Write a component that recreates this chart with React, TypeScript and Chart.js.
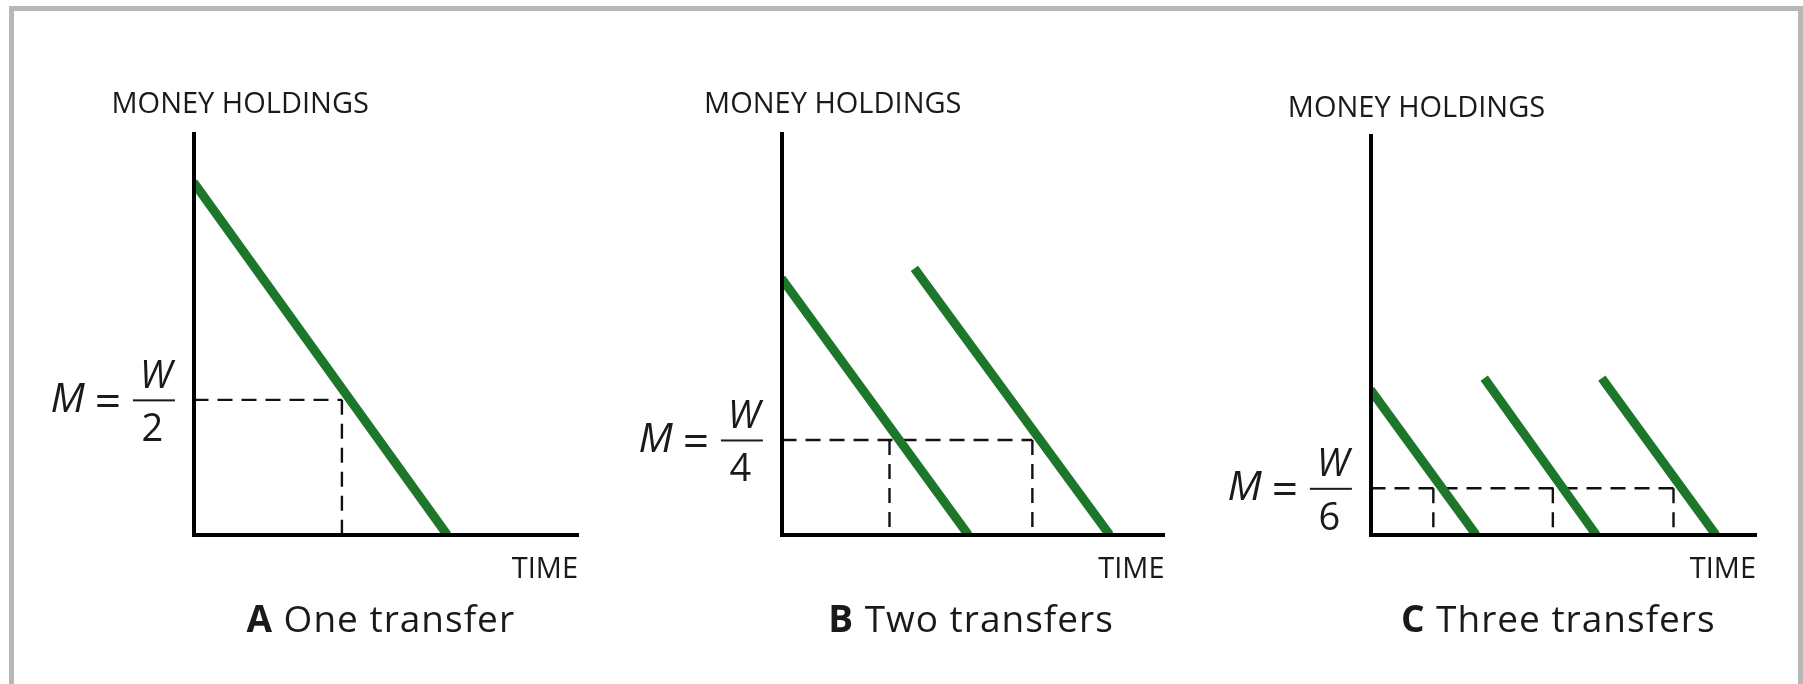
import React, { useEffect, useRef } from "react";
import { Chart, registerables } from "chart.js";

Chart.register(...registerables);

// ---------- text ----------
const Y_AXIS_LABEL = "MONEY HOLDINGS";
const X_AXIS_LABEL = "TIME";
const TITLE_LETTERS = ["A", "B", "C"];
const TITLE_TEXTS = ["One transfer", "Two transfers", "Three transfers"];
const FRACTION_DENOMINATORS = ["2", "4", "6"];

// ---------- axis ranges (abstract units) ----------
const X_RANGE = [0, 10];
const Y_RANGE = [0, 10];

// ---------- Panel A: one transfer ----------
const aSegment1 = [{ x: 0, y: 8.8 }, { x: 6.6, y: 0 }];
const aAverageLevel = 3.37;
const aAverageTimes = [3.86];

// ---------- Panel B: two transfers ----------
const bSegment1 = [{ x: 0, y: 6.4 }, { x: 4.88, y: 0 }];
const bSegment2 = [{ x: 3.47, y: 6.65 }, { x: 8.57, y: 0 }];
const bAverageLevel = 2.37;
const bAverageTimes = [2.82, 6.55];

// ---------- Panel C: three transfers ----------
const cSegment1 = [{ x: 0, y: 3.64 }, { x: 2.74, y: 0 }];
const cSegment2 = [{ x: 2.95, y: 3.93 }, { x: 5.86, y: 0 }];
const cSegment3 = [{ x: 6.0, y: 3.93 }, { x: 8.96, y: 0 }];
const cAverageLevel = 1.17;
const cAverageTimes = [1.63, 4.73, 7.86];

// ---------- styles ----------
const GREEN = "#1c772b";
const INK = "#1a1a1a";
const FONT = '"Open Sans", "Noto Sans", sans-serif';

type Pt = { x: number; y: number };

type PanelSpec = {
  index: number;
  segments: Pt[][];
  level: number;
  times: number[];
  box: { left: number; top: number; width: number; height: number };
  pad: { left: number; right: number; top: number; bottom: number };
  yLabelShift: number;
  yLabelRise: number;
  titleShift: number;
};

const PANELS: PanelSpec[] = [
  {
    index: 0,
    segments: [aSegment1],
    level: aAverageLevel,
    times: aAverageTimes,
    box: { left: 20, top: 60, width: 580, height: 620 },
    pad: { left: 173.5, right: 22, top: 74, bottom: 145 },
    yLabelShift: -82,
    yLabelRise: 20.7,
    titleShift: -5,
  },
  {
    index: 1,
    segments: [bSegment1, bSegment2],
    level: bAverageLevel,
    times: bAverageTimes,
    box: { left: 600, top: 60, width: 590, height: 620 },
    pad: { left: 181.5, right: 25.5, top: 74, bottom: 145 },
    yLabelShift: -77.4,
    yLabelRise: 20.7,
    titleShift: -2,
  },
  {
    index: 2,
    segments: [cSegment1, cSegment2, cSegment3],
    level: cAverageLevel,
    times: cAverageTimes,
    box: { left: 1190, top: 60, width: 600, height: 620 },
    pad: { left: 180.5, right: 34, top: 76, bottom: 145 },
    yLabelShift: -82.7,
    yLabelRise: 19,
    titleShift: -5,
  },
];

function makeTextPlugin(spec: PanelSpec) {
  return {
    id: "panelText" + spec.index,
    afterDraw(chart: any) {
      const { ctx, chartArea, scales } = chart;
      const left = chartArea.left;
      const right = chartArea.right;
      const top = chartArea.top;
      const bottom = chartArea.bottom;
      const my = scales.y.getPixelForValue(spec.level);
      ctx.save();
      ctx.fillStyle = INK;
      ctx.textBaseline = "alphabetic";

      // y-axis label above the axis
      ctx.font = `29px ${FONT}`;
      ctx.textAlign = "left";
      ctx.fillText(Y_AXIS_LABEL, left + spec.yLabelShift, top - spec.yLabelRise);

      // x-axis label under right end
      ctx.textAlign = "right";
      ctx.fillText(X_AXIS_LABEL, right, bottom + 43);

      // panel title: bold letter + regular text
      const letter = TITLE_LETTERS[spec.index];
      const rest = " " + TITLE_TEXTS[spec.index];
      (ctx as any).letterSpacing = "1px";
      ctx.font = `bold 37px ${FONT}`;
      const wL = ctx.measureText(letter).width;
      ctx.font = `37px ${FONT}`;
      const wR = ctx.measureText(rest).width;
      const cx = (left + right) / 2 + spec.titleShift;
      const tx = cx - (wL + wR) / 2;
      ctx.textAlign = "left";
      ctx.font = `bold 37px ${FONT}`;
      ctx.fillText(letter, tx, bottom + 96.7);
      ctx.font = `37px ${FONT}`;
      ctx.fillText(rest, tx + wL, bottom + 96.7);
      (ctx as any).letterSpacing = "0px";

      // M = W / n label
      ctx.font = `italic 41px ${FONT}`;
      ctx.textAlign = "left";
      ctx.fillText("M", left - 143, my + 12);
      ctx.font = `46px ${FONT}`;
      ctx.textAlign = "center";
      ctx.fillText("=", left - 85.6, my + 17);
      const barL = left - 60.6;
      const barR = left - 18.6;
      ctx.fillRect(barL, my - 0.5, barR - barL, 2);
      const bc = (barL + barR) / 2;
      ctx.font = `italic 38px ${FONT}`;
      ctx.fillText("W", bc + 2, my - 12);
      ctx.font = `38px ${FONT}`;
      ctx.fillText(FRACTION_DENOMINATORS[spec.index], bc - 1.5, my + 41.5);
      ctx.restore();
    },
  };
}

function buildDatasets(spec: PanelSpec) {
  const ds: any[] = [];
  spec.segments.forEach((seg) => {
    ds.push({
      data: seg,
      borderColor: GREEN,
      borderWidth: 9,
      borderCapStyle: "butt",
      pointRadius: 0,
      fill: false,
      clip: 0,
      order: 0,
    });
  });
  const lastTime = spec.times[spec.times.length - 1];
  const dashStyle = {
    borderColor: "#111",
    borderWidth: 2.4,
    borderDash: [15, 9],
    pointRadius: 0,
    fill: false,
    clip: 0,
    order: 1,
  };
  ds.push({
    ...dashStyle,
    data: [
      { x: X_RANGE[0], y: spec.level },
      { x: lastTime, y: spec.level },
    ],
  });
  spec.times.forEach((t) => {
    ds.push({
      ...dashStyle,
      data: [
        { x: t, y: spec.level },
        { x: t, y: Y_RANGE[0] },
      ],
    });
  });
  return ds;
}

function Panel({ spec }: { spec: PanelSpec }) {
  const ref = useRef<HTMLCanvasElement | null>(null);
  useEffect(() => {
    if (!ref.current) return;
    const axisCommon = {
      type: "linear" as const,
      display: true,
      z: 1,
      grid: { display: false, drawTicks: false },
      ticks: { display: false },
      border: { display: true, color: "#000", width: 4, z: 1 },
    };
    const chart = new Chart(ref.current, {
      type: "line",
      data: { datasets: buildDatasets(spec) },
      options: {
        responsive: false,
        maintainAspectRatio: false,
        animation: false,
        events: [],
        layout: { padding: spec.pad },
        plugins: {
          legend: { display: false },
          tooltip: { enabled: false },
          title: { display: false },
        },
        scales: {
          x: { ...axisCommon, position: "bottom", min: X_RANGE[0], max: X_RANGE[1] },
          y: { ...axisCommon, position: "left", min: Y_RANGE[0], max: Y_RANGE[1] },
        },
      } as any,
      plugins: [makeTextPlugin(spec)],
    });
    return () => chart.destroy();
  }, [spec]);
  return (
    <canvas
      ref={ref}
      width={spec.box.width}
      height={spec.box.height}
      style={{
        position: "absolute",
        left: spec.box.left,
        top: spec.box.top,
        width: spec.box.width,
        height: spec.box.height,
      }}
    />
  );
}

export default function App() {
  return (
    <div
      style={{
        position: "absolute",
        left: 0,
        top: 0,
        width: 1803,
        height: 684,
        overflow: "hidden",
        background: "#fff",
      }}
    >
      <div
        style={{
          position: "absolute",
          left: 9,
          top: 6,
          width: 1784,
          height: 720,
          borderLeft: "5px solid #b7b7b7",
          borderTop: "5px solid #b7b7b7",
          borderRight: "5px solid #b7b7b7",
        }}
      />
      {PANELS.map((p) => (
        <Panel key={p.index} spec={p} />
      ))}
    </div>
  );
}
